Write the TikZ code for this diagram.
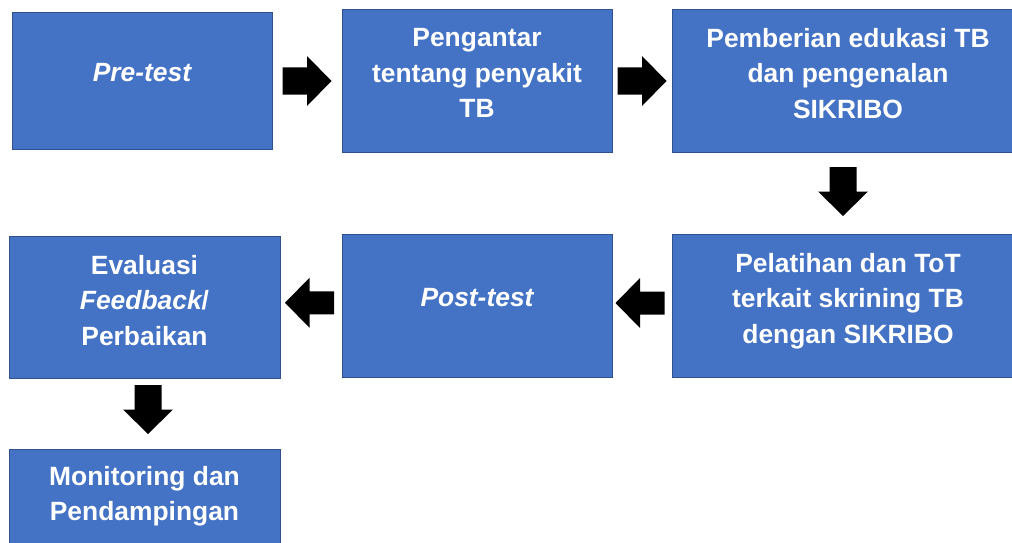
\documentclass[tikz,border=0pt]{standalone}
\usepackage{fontspec}
\setmainfont{Liberation Sans}
\usetikzlibrary{calc}
\definecolor{boxfill}{HTML}{4472C4}
\definecolor{boxline}{HTML}{2F528F}
\tikzset{
  box/.style={draw=boxline, line width=1pt, fill=boxfill, rectangle, anchor=north west, inner sep=0pt, outer sep=0pt},
  txt/.style={text=white, align=center, inner sep=0pt, text depth=0pt, font=\bfseries\fontsize{26.4}{35.5}\selectfont},
  barrow/.pic={\fill[black] (-24.5,-13.5) -- (0,-13.5) -- (0,-25) -- (24.5,0) -- (0,25) -- (0,13.5) -- (-24.5,13.5) -- cycle;},
  barrowthin/.pic={\fill[black] (-24.5,-11.5) -- (0,-11.5) -- (0,-25) -- (24.5,0) -- (0,25) -- (0,11.5) -- (-24.5,11.5) -- cycle;}
}
\begin{document}
\begin{tikzpicture}[x=1pt,y=-1pt]
\useasboundingbox (0,0) rectangle (1012,543);
% boxes
\node[box, minimum width=260pt, minimum height=136pt] (b1) at (12,13) {};
\node[box, minimum width=270pt, minimum height=142pt] (b2) at (342,10) {};
\node[box, minimum width=352pt, minimum height=142pt] (b3) at (672,10) {};
\node[box, minimum width=352pt, minimum height=143pt] (b4) at (672,234) {};
\node[box, minimum width=270pt, minimum height=143pt] (b5) at (342,234) {};
\node[box, minimum width=271pt, minimum height=142pt] (b6) at (9,236) {};
\node[box, minimum width=271pt, minimum height=142pt] (b7) at (9,449) {};
% texts
\node[txt] (t1) at ([yshift=8.5pt]b1.center) {\itshape Pre-test};
\node[txt] (t2) at ([yshift=8pt]b2.center) {Pengantar\\tentang penyakit\\TB};
\node[txt] (t3) at ([yshift=8pt]b3.center) {Pemberian edukasi TB\\dan pengenalan\\SIKRIBO};
\node[txt] (t4) at ([yshift=7.5pt]b4.center) {Pelatihan dan ToT\\terkait skrining TB\\dengan SIKRIBO};
\node[txt] (t5) at ([yshift=8.5pt]b5.center) {\itshape Post-test};
\node[txt] (t6) at ([yshift=7pt]b6.center) {Evaluasi\\{\itshape Feedback}/\\Perbaikan};
\node[txt] (t7) at ([yshift=-44.5pt]b7.north) {Monitoring dan\\Pendampingan};
% block arrows
\pic at ($(b1.east)!0.5!(b2.west)$) {barrow};
\pic at ($(b2.east)!0.5!(b3.west)$) {barrow};
\pic[rotate=-90] at ($(b3.south)!0.5!(b4.north)+(-5,-1.5)$) {barrow};
\pic[rotate=180] at ($(b4.west)!0.5!(b5.east)+(-2,-2.5)$) {barrowthin};
\pic[rotate=180] at ($(b5.west)!0.5!(b6.east)+(-1.5,-3.5)$) {barrowthin};
\pic[rotate=-90] at ($(b6.south)!0.5!(b7.north)+(3.5,-4)$) {barrow};
\end{tikzpicture}
\end{document}
